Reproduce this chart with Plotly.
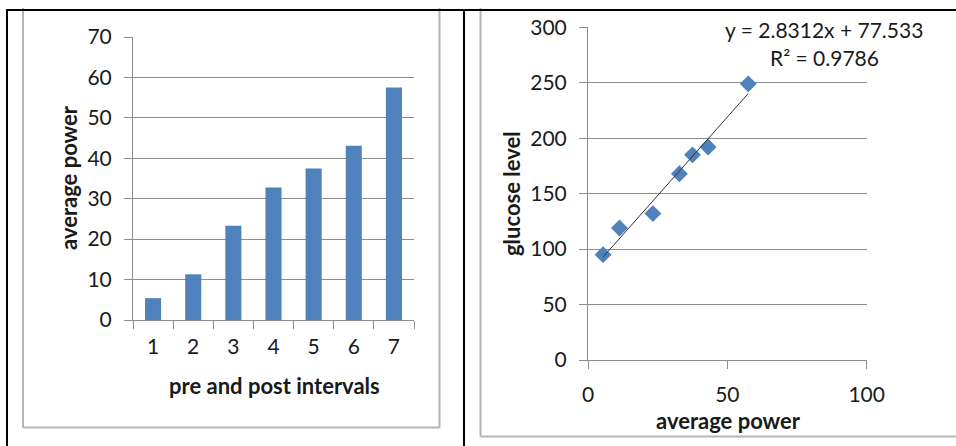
import plotly.graph_objects as go

W, H = 956, 446

# ---- data ----
intervals = ["1", "2", "3", "4", "5", "6", "7"]
avg_power = [5.4, 11.3, 23.3, 32.8, 37.5, 43.1, 57.5]
glucose = [95, 119, 132, 168, 185, 192, 249]
slope, intercept = 2.8312, 77.533
eq_text = "y = 2.8312x + 77.533"
r2_text = "R² = 0.9786"

BLUE = "#4F81BD"
GRID = "#8E8E8E"
FRAME = "#B4B4B4"
TXT = "#1a1a1a"
FONT = "Lato"

def px(x):
    return x / W

def py(y):
    return 1 - y / H

fig = go.Figure()

fig.add_trace(go.Bar(x=intervals, y=avg_power, marker=dict(color=BLUE, line=dict(width=0)),
                     width=0.4, xaxis="x", yaxis="y", showlegend=False))

fig.add_trace(go.Scatter(x=avg_power, y=glucose, mode="markers",
                         marker=dict(symbol="diamond", size=13, color=BLUE),
                         xaxis="x2", yaxis="y2", showlegend=False))

xt = [min(avg_power), max(avg_power)]
yt = [slope * v + intercept for v in xt]
fig.add_trace(go.Scatter(x=xt, y=yt, mode="lines", line=dict(color="#333333", width=1),
                         xaxis="x2", yaxis="y2", showlegend=False))

tickfont = dict(family=FONT, size=21, color=TXT)
tickfont2 = dict(family=FONT, size=21, color=TXT)

common = dict(showline=True, linecolor=GRID, linewidth=1, ticks="outside", ticklen=8,
              tickcolor=GRID, zeroline=False, fixedrange=True, automargin=False)

fig.update_layout(
    width=W, height=H, margin=dict(l=0, r=0, t=0, b=0),
    paper_bgcolor="white", plot_bgcolor="white",
    xaxis=dict(domain=[px(133), px(414)], type="category", range=[-0.5, 6.5],
               tickson="boundaries", showgrid=False, tickfont=tickfont,
               ticklabelstandoff=8, **common),
    yaxis=dict(domain=[py(320), py(37)], range=[0, 70], dtick=10, showgrid=True,
               gridcolor=GRID, gridwidth=1, tickfont=tickfont, ticklabelstandoff=8, **common),
    xaxis2=dict(domain=[px(588), px(866.7)], range=[0, 100], dtick=50, showgrid=False,
                tickfont=tickfont2, anchor="y2", ticklabelstandoff=8, **common),
    yaxis2=dict(domain=[py(360), py(27.3)], range=[0, 300], dtick=50, showgrid=True,
                gridcolor=GRID, gridwidth=1, tickfont=tickfont2, anchor="x2",
                ticklabelstandoff=8, **common),
)

titlefont = dict(family=FONT, size=22, color=TXT, weight="bold")
ann = [
    dict(text="average power", x=px(68), y=py(178), textangle=-90),
    dict(text="pre and post intervals", x=px(274), y=py(385)),
    dict(text="glucose level", x=px(511), y=py(193), textangle=-90),
    dict(text="average power", x=px(728), y=py(420)),
]
for a in ann:
    fig.add_annotation(xref="paper", yref="paper", showarrow=False, font=titlefont,
                       xanchor="center", yanchor="middle", **a)

for txt, yy in [(eq_text, 30), (r2_text, 58)]:
    fig.add_annotation(xref="paper", yref="paper", x=px(824), y=py(yy), text=txt,
                       showarrow=False, font=dict(family=FONT, size=21, color=TXT),
                       xanchor="center", yanchor="middle")

shapes = []
def line(x0, y0, x1, y1, color, width):
    shapes.append(dict(type="line", xref="paper", yref="paper",
                       x0=px(x0), x1=px(x1), y0=py(y0), y1=py(y1),
                       line=dict(color=color, width=width)))

# gray chart frames
line(23, 8, 23, 427.5, FRAME, 2)
line(439.5, 8, 439.5, 427.5, FRAME, 2)
line(23, 427.5, 439.5, 427.5, FRAME, 2)
line(480.5, 8, 480.5, 436.5, FRAME, 2)
line(480.5, 436.5, 956, 436.5, FRAME, 2)
# black table lines
line(6, 10, 956, 10, "black", 2)
line(7, 10, 7, 446, "black", 2)
line(464, 10, 464, 446, "black", 2)
fig.update_layout(shapes=shapes)

fig.write_html("out.html", config={"displayModeBar": False},
               post_script="document.body.style.margin='0';document.body.style.overflow='hidden';")
